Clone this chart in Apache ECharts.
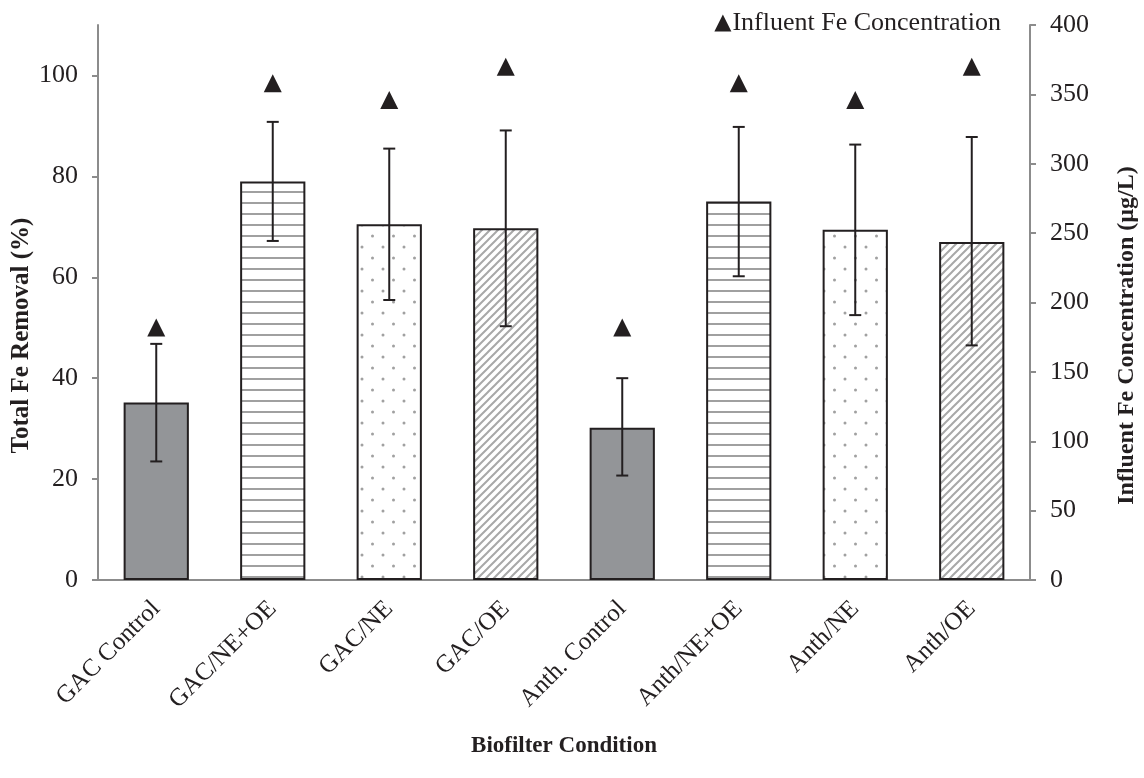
<!DOCTYPE html>
<html>
<head>
<meta charset="utf-8">
<script src="https://cdn.jsdelivr.net/npm/echarts@6/dist/echarts.min.js"></script>
<style>
  html, body { margin: 0; padding: 0; background: #fff; }
  #chart { width: 1144px; height: 778px; }
</style>
</head>
<body>
<div id="chart"></div>
<script>
// Total Fe removal per biofilter condition (bars + error bars), influent Fe on the right axis.
const categories = ['GAC Control', 'GAC/NE+OE', 'GAC/NE', 'GAC/OE', 'Anth. Control', 'Anth/NE+OE', 'Anth/NE', 'Anth/OE'];
const removal = [35.2, 79.0, 70.5, 69.7, 30.2, 75.0, 69.4, 67.0];
const errLow = [23.5, 67.2, 55.5, 50.3, 20.7, 60.2, 52.5, 46.5];
const errHigh = [46.8, 90.8, 85.5, 89.1, 40.0, 89.8, 86.3, 87.8];
const influent = [182, 358, 346, 370, 182, 358, 346, 370];
const leftTicks = [0, 20, 40, 60, 80, 100];

const INK = '#231f20';
const AXIS = '#8c8c8c';
const FONT = 'Liberation Serif';

// fill patterns drawn on small canvases
function pattern(kind) {
  const c = document.createElement('canvas');
  const g = c.getContext('2d');
  if (kind === 'hlines') {
    c.width = 10; c.height = 11;
    g.fillStyle = '#fff'; g.fillRect(0, 0, 10, 11);
    g.fillStyle = '#a0a0a0'; g.fillRect(0, 4, 10, 2);
  } else if (kind === 'dots') {
    c.width = 21; c.height = 22;
    g.fillStyle = '#fff'; g.fillRect(0, 0, 21, 22);
    g.fillStyle = '#a0a0a0';
    g.beginPath(); g.arc(5, 5, 1.5, 0, Math.PI * 2); g.fill();
    g.beginPath(); g.arc(15.5, 16, 1.5, 0, Math.PI * 2); g.fill();
  } else if (kind === 'diag') {
    c.width = 8; c.height = 8;
    g.fillStyle = '#fff'; g.fillRect(0, 0, 8, 8);
    g.strokeStyle = '#a8a8a8'; g.lineWidth = 2;
    g.beginPath();
    g.moveTo(0, 8); g.lineTo(8, 0);
    g.moveTo(-2, 2); g.lineTo(2, -2);
    g.moveTo(6, 10); g.lineTo(10, 6);
    g.stroke();
  }
  return { image: c, repeat: 'repeat' };
}

const fills = {
  solid: '#939598',
  hlines: pattern('hlines'),
  dots: pattern('dots'),
  diag: pattern('diag')
};
const barKinds = ['solid', 'hlines', 'dots', 'diag', 'solid', 'hlines', 'dots', 'diag'];

const chart = echarts.init(document.getElementById('chart'));

chart.setOption({
  backgroundColor: '#fff',
  textStyle: { fontFamily: FONT, color: INK },
  animation: false,
  grid: { left: 98, right: 114, top: 25, bottom: 198, outerBoundsMode: 'none', containLabel: false },
  legend: {
    right: 138, top: 5,
    itemWidth: 17, itemHeight: 17, itemGap: 4,
    data: [{ name: 'Influent Fe Concentration', icon: 'triangle' }],
    textStyle: { fontFamily: FONT, fontSize: 26, color: INK, padding: [0, 0, 0, -4] }
  },
  xAxis: {
    type: 'category',
    data: categories,
    name: 'Biofilter Condition',
    nameLocation: 'middle',
    nameGap: 155,
    nameMoveOverlap: false,
    nameTextStyle: { fontFamily: FONT, fontSize: 23, fontWeight: 'bold', color: INK },
    axisLine: { lineStyle: { color: AXIS, width: 2 } },
    axisTick: { length: 7, lineStyle: { color: AXIS, width: 2 } },
    axisLabel: { rotate: 45, margin: 25, fontFamily: FONT, fontSize: 25, color: INK, interval: 0 }
  },
  yAxis: [
    {
      type: 'value',
      min: 0, max: 110,
      name: 'Total Fe Removal (%)',
      nameLocation: 'middle',
      nameRotate: 90,
      nameGap: 64,
      nameMoveOverlap: false,
      nameTextStyle: { fontFamily: FONT, fontSize: 25, fontWeight: 'bold', color: INK, padding: [0, 66, 0, 0] },
      splitLine: { show: false },
      axisLine: { show: true, lineStyle: { color: AXIS, width: 2 } },
      axisTick: { show: true, length: 6, customValues: leftTicks, lineStyle: { color: AXIS, width: 2 } },
      axisLabel: { customValues: leftTicks, margin: 20, fontFamily: FONT, fontSize: 26, color: INK }
    },
    {
      type: 'value',
      min: 0, max: 400, interval: 50,
      position: 'right',
      name: 'Influent Fe Concentration (µg/L)',
      nameLocation: 'middle',
      nameRotate: 90,
      nameGap: 85,
      nameMoveOverlap: false,
      nameTextStyle: { fontFamily: FONT, fontSize: 24, fontWeight: 'bold', color: INK, padding: [0, 66, 0, 0] },
      splitLine: { show: false },
      axisLine: { show: true, lineStyle: { color: AXIS, width: 2 } },
      axisTick: { show: true, length: 6, lineStyle: { color: AXIS, width: 2 } },
      axisLabel: { margin: 20, fontFamily: FONT, fontSize: 26, color: INK }
    }
  ],
  series: [
    {
      name: 'Total Fe Removal',
      type: 'bar',
      barWidth: '56%',
      data: removal.map((v, i) => ({
        value: v,
        itemStyle: { color: fills[barKinds[i]], borderColor: INK, borderWidth: 2 }
      }))
    },
    {
      name: 'error',
      type: 'custom',
      z: 5,
      data: categories.map((c, i) => [i, errLow[i], errHigh[i]]),
      renderItem(params, api) {
        const x = api.value(0);
        const lo = api.coord([x, api.value(1)]);
        const hi = api.coord([x, api.value(2)]);
        const half = 6;
        const style = { stroke: INK, lineWidth: 2 };
        return {
          type: 'group',
          children: [
            { type: 'line', shape: { x1: lo[0], y1: lo[1], x2: hi[0], y2: hi[1] }, style },
            { type: 'line', shape: { x1: lo[0] - half, y1: lo[1], x2: lo[0] + half, y2: lo[1] }, style },
            { type: 'line', shape: { x1: hi[0] - half, y1: hi[1], x2: hi[0] + half, y2: hi[1] }, style }
          ]
        };
      }
    },
    {
      name: 'Influent Fe Concentration',
      type: 'scatter',
      yAxisIndex: 1,
      symbol: 'triangle',
      symbolSize: 18,
      itemStyle: { color: INK, opacity: 1 },
      z: 6,
      data: influent
    }
  ]
});
</script>
</body>
</html>
